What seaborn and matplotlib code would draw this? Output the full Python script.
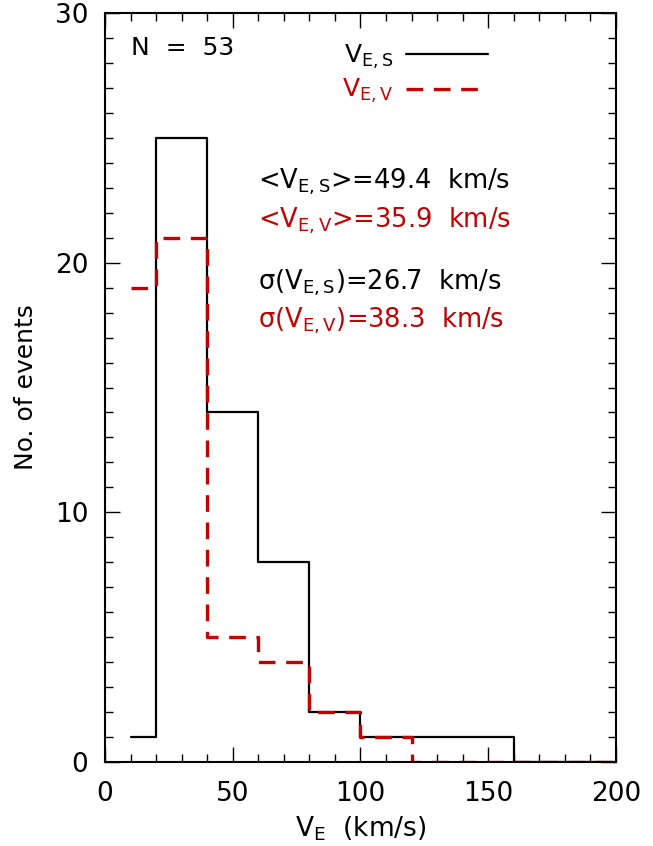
import numpy as np
import pandas as pd
import matplotlib
matplotlib.use("Agg")
import matplotlib.pyplot as plt
from matplotlib.ticker import MultipleLocator
import seaborn as sns

# Histogram bins of expansion speed (km/s) and event counts per bin
bin_edges = [10, 20, 40, 60, 80, 100, 120, 140, 160, 180, 200]
counts_s = [1, 25, 14, 8, 2, 1, 1, 1, 0, 0]
counts_v = [19, 21, 5, 4, 2, 1, 0, 0, 0, 0]

n_events = 53
mean_s, mean_v = 49.4, 35.9
sigma_s, sigma_v = 26.7, 38.3

RED = "#c40000"

sns.set_theme(style="ticks")
plt.rcParams["font.family"] = ["DejaVu Sans"]
plt.rcParams["mathtext.fontset"] = "dejavusans"
plt.rcParams["mathtext.default"] = "regular"
for key in ("text.color", "axes.labelcolor", "xtick.color", "ytick.color",
            "axes.edgecolor"):
    plt.rcParams[key] = "black"

centers = [(a + b) / 2 for a, b in zip(bin_edges[:-1], bin_edges[1:])]
df = pd.DataFrame({
    "speed": centers * 2,
    "count": counts_s + counts_v,
    "kind": ["S"] * len(centers) + ["V"] * len(centers),
})

fig = plt.figure(figsize=(6.53, 8.46), dpi=100)
ax = fig.add_axes([0.1608, 0.0993, 0.7825, 0.8853])

sns.histplot(data=df[df.kind == "S"], x="speed", weights="count", bins=bin_edges,
             element="step", fill=False, color="black", linewidth=1.6,
             ax=ax, label=r"V$_{\mathregular{E,S}}$")
sns.histplot(data=df[df.kind == "V"], x="speed", weights="count", bins=bin_edges,
             element="step", fill=False, color=RED, linewidth=2.4,
             linestyle=(0, (5, 3.2)), ax=ax, label=r"V$_{\mathregular{E,V}}$")

ax.set_xlim(0, 200)
ax.set_ylim(0, 30)
ax.xaxis.set_major_locator(MultipleLocator(50))
ax.xaxis.set_minor_locator(MultipleLocator(10))
ax.yaxis.set_major_locator(MultipleLocator(10))
ax.yaxis.set_minor_locator(MultipleLocator(1))
ax.tick_params(which="both", direction="in", top=True, right=True,
               labelsize=19, colors="black", width=1.0)
ax.tick_params(axis="x", which="major", length=11, pad=14)
ax.tick_params(axis="y", which="major", length=11, pad=12)
ax.tick_params(which="minor", length=6)
for sp in ax.spines.values():
    sp.set_linewidth(1.5)
    sp.set_color("black")

ax.set_xlabel(r"V$_{\mathregular{E}}$  (km/s)", fontsize=19, labelpad=5)
ax.set_ylabel("No. of events", fontsize=18, labelpad=12)

ax.text(0.05, 0.953, f"N  =  {n_events}", transform=ax.transAxes,
        fontsize=18, ha="left", va="center")

leg = ax.legend(loc="upper left", bbox_to_anchor=(0.42, 0.99), frameon=False,
                markerfirst=False, handlelength=3.3, handletextpad=0.5,
                labelspacing=0.25, fontsize=18, labelcolor="linecolor")

tx = 0.299
fs = 18.5
ax.text(tx, 0.774, r"<V$_{\mathregular{E,S}}$>=" + f"{mean_s}  km/s",
        transform=ax.transAxes, fontsize=fs, ha="left", va="center", color="black")
ax.text(tx, 0.723, r"<V$_{\mathregular{E,V}}$>=" + f"{mean_v}  km/s",
        transform=ax.transAxes, fontsize=fs, ha="left", va="center", color=RED)
ax.text(tx, 0.640, r"$\sigma$(V$_{\mathregular{E,S}}$)=" + f"{sigma_s}  km/s",
        transform=ax.transAxes, fontsize=fs, ha="left", va="center", color="black")
ax.text(tx, 0.589, r"$\sigma$(V$_{\mathregular{E,V}}$)=" + f"{sigma_v}  km/s",
        transform=ax.transAxes, fontsize=fs, ha="left", va="center", color=RED)

fig.savefig("out.png", dpi=100)
